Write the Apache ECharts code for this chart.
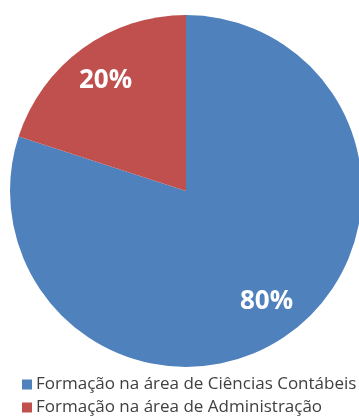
<!DOCTYPE html>
<html>
<head>
<meta charset="utf-8">
<script src="https://cdn.jsdelivr.net/npm/echarts@6/dist/echarts.min.js"></script>
<style>
  html, body { margin: 0; padding: 0; background: #fff; }
  #chart { width: 359px; height: 417px; }
</style>
</head>
<body>
<div id="chart"></div>
<script>
const categories = ["Formação na área de Ciências Contábeis", "Formação na área de Administração"]
const values = [80, 20]
const colors = ["#4F81BD", "#C0504D"]

const pieData = categories.map((name, i) => ({
  name,
  value: values[i],
  itemStyle: { color: colors[i] },
}))

const chart = echarts.init(document.getElementById("chart"), null, { renderer: "canvas" })

const center = [186, 191]

const option = {
  animation: false,
  legend: {
    data: categories,
    orient: "vertical",
    left: 22,
    top: 376,
    height: 60,
    itemWidth: 10,
    itemHeight: 10,
    itemGap: 6,
    icon: "rect",
    padding: [0, 0, 0, 0],
    textStyle: { fontFamily: "Open Sans", fontSize: 17, color: "#404040", padding: [0, 0, 0, -1] },
  },
  series: [
    {
      type: "pie",
      center,
      radius: [0, 176],
      startAngle: 90,
      clockwise: true,
      data: pieData,
      label: { show: false },
      labelLine: { show: false },
      emphasis: { disabled: true },
    },
    {
      // overlay only for label placement at ~0.76 r
      type: "pie",
      center,
      radius: [92, 176],
      startAngle: 90,
      clockwise: true,
      silent: true,
      data: pieData.map((d) => ({ ...d, itemStyle: { color: "rgba(0,0,0,0)" } })),
      label: {
        show: true,
        position: "inside",
        formatter: (p) => p.value + "%",
        color: "#fff",
        fontFamily: "Open Sans",
        fontWeight: "bold",
        fontSize: 26,
      },
      labelLine: { show: false },
      emphasis: { disabled: true },
    },
  ],
}

chart.setOption(option)
</script>
</body>
</html>
